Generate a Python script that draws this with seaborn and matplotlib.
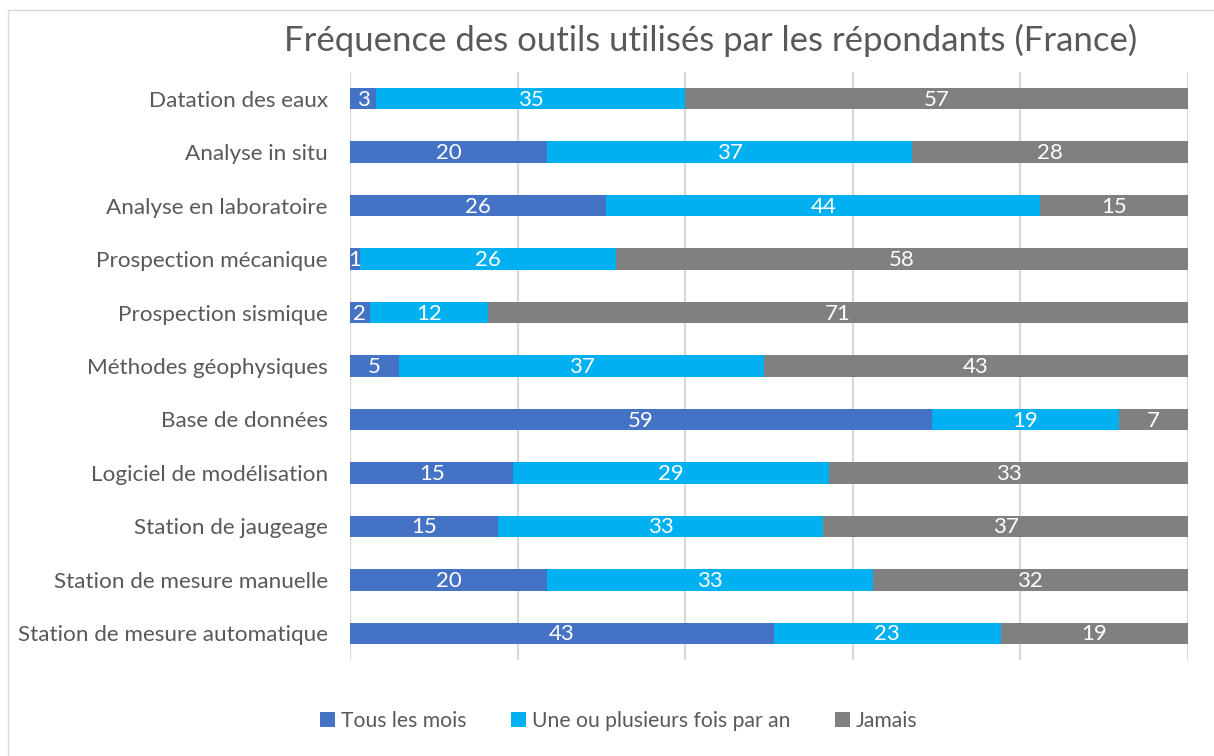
import matplotlib
matplotlib.use("Agg")
import matplotlib.pyplot as plt
from matplotlib.patches import Patch, Rectangle
import seaborn as sns
import pandas as pd
import numpy as np

categories = [
    "Datation des eaux",
    "Analyse in situ",
    "Analyse en laboratoire",
    "Prospection mécanique",
    "Prospection sismique",
    "Méthodes géophysiques",
    "Base de données",
    "Logiciel de modélisation",
    "Station de jaugeage",
    "Station de mesure manuelle",
    "Station de mesure automatique",
]
series_names = ["Tous les mois", "Une ou plusieurs fois par an", "Jamais"]
tous_les_mois = [3, 20, 26, 1, 2, 5, 59, 15, 15, 20, 43]
une_ou_plusieurs = [35, 37, 44, 26, 12, 37, 19, 29, 33, 33, 23]
jamais = [57, 28, 15, 58, 71, 43, 7, 33, 37, 32, 19]
title = "Fréquence des outils utilisés par les répondants (France)"
colors = ["#4472C4", "#00B0F0", "#808080"]

sns.set_theme(style="white")
plt.rcParams["font.family"] = ["Lato", "DejaVu Sans"]

vals = np.array([tous_les_mois, une_ou_plusieurs, jamais], dtype=float)
totals = vals.sum(axis=0)
pct = vals / totals * 100
cum = np.cumsum(pct, axis=0)

df = pd.DataFrame({
    "cat": categories,
    "c1": cum[0], "c2": cum[1], "c3": cum[2],
})

fig = plt.figure(figsize=(12.14, 7.56), dpi=100)
ax = fig.add_axes([350/1214, 1-660/756, (1188-350)/1214, (660-72)/756])

for col, color in zip(["c3", "c2", "c1"], colors[::-1]):
    sns.barplot(data=df, y="cat", x=col, orient="h", color=color,
                width=0.4, ax=ax, saturation=1, zorder=3, edgecolor="none", linewidth=0)

ax.set_xlim(0, 100)
ax.set_ylim(len(categories) - 0.5, -0.5)
ax.set_xticks([0, 20, 40, 60, 80, 100])
ax.set_xticklabels([])
ax.xaxis.grid(True, color="#d9d9d9", linewidth=1.6, zorder=0)
ax.yaxis.grid(False)
ax.set_axisbelow(True)
for s in ax.spines.values():
    s.set_visible(False)
ax.set_xlabel("")
ax.set_ylabel("")
ax.tick_params(axis="y", length=0, pad=16, labelsize=16.2, labelcolor="#595959")
ax.tick_params(axis="x", length=0)

starts = np.vstack([np.zeros(len(categories)), cum[:-1]])
for i in range(3):
    for j in range(len(categories)):
        cx = starts[i, j] + pct[i, j] / 2
        ax.text(cx, j + 0.02, f"{int(vals[i, j])}", ha="center", va="center",
                color="white", fontsize=16, zorder=5)

fig.text(711/1214, 1-40/756, title, ha="center", va="center",
         fontsize=25, color="#595959")

handles = [Patch(facecolor=c, edgecolor="none") for c in colors]
fig.legend(handles, series_names, loc="center", bbox_to_anchor=(619/1214, 1-721/756),
           ncol=3, frameon=False, fontsize=15.2, labelcolor="#595959",
           handlelength=0.7, handleheight=0.7, handletextpad=0.3, columnspacing=2.1)

fig.patches.append(Rectangle((8/1214, -0.1), 1.2, (1-10/756) + 0.1,
                             transform=fig.transFigure, fill=False,
                             edgecolor="#d9d9d9", linewidth=1))

fig.savefig("out.png", dpi=100)
